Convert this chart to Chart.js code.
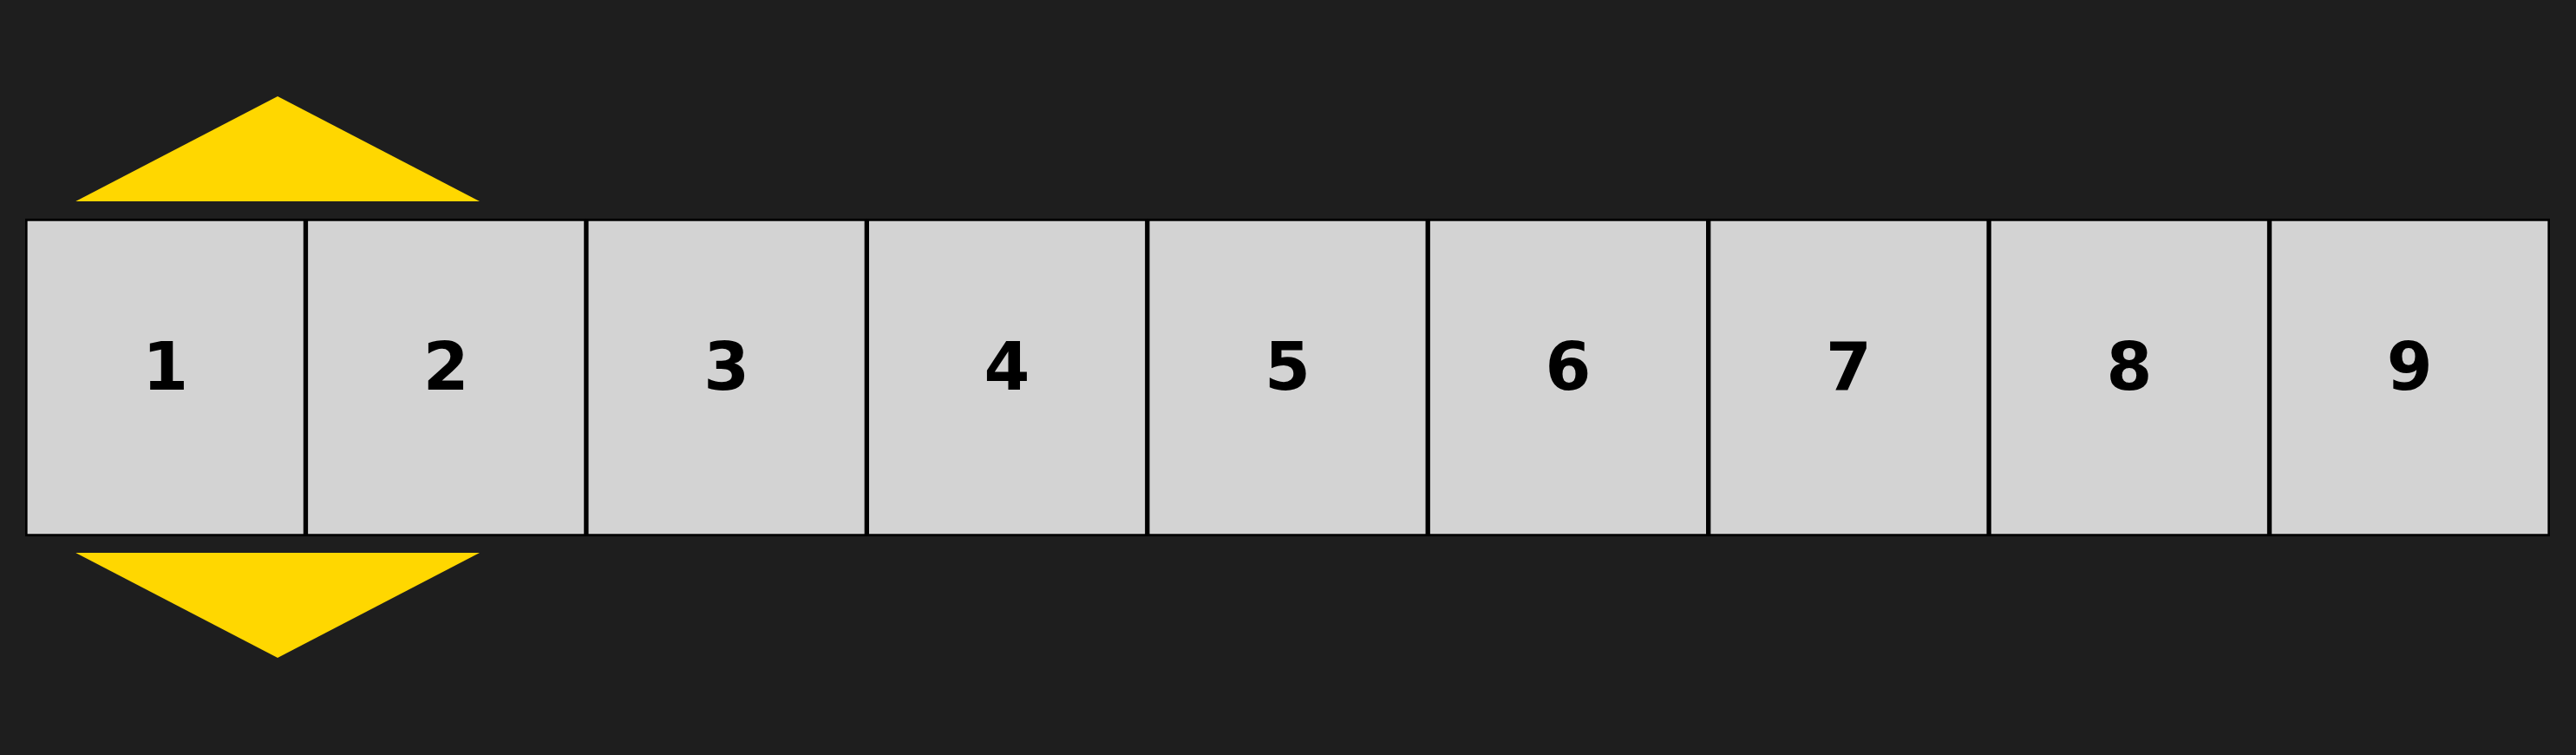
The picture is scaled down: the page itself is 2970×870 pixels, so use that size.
<!DOCTYPE html>
<html>
<head>
<meta charset="utf-8">
<style>
  html, body { margin: 0; padding: 0; background: #1e1e1e; }
  #wrap { width: 2970px; height: 870px; }
</style>
<script src="https://cdn.jsdelivr.net/npm/chart.js@4/dist/chart.umd.min.js"></script>
</head>
<body>
<div id="wrap"><canvas id="strip"></canvas></div>
<script>
// cell labels and their centres (in cell units)
const cellLabels = ['1', '2', '3', '4', '5', '6', '7', '8', '9'];
const cellCentres = [0.5, 1.5, 2.5, 3.5, 4.5, 5.5, 6.5, 7.5, 8.5];
const cellSpan = [252, 618];          // top / bottom of the strip (y runs downward)
// pointer triangles: x positions (cell units) and y values
const pointerX = [0.18, 0.9, 1.62];
const upperPointerY = [232, 111, 232];
const lowerPointerY = [637, 758, 637];

const labelPlugin = {
  id: 'cellText',
  afterDatasetsDraw(chart) {
    const { ctx, scales } = chart;
    ctx.save();
    ctx.fillStyle = '#000';
    ctx.font = 'bold 76px "DejaVu Sans"';
    ctx.textAlign = 'center';
    ctx.textBaseline = 'middle';
    const yMid = scales.y.getPixelForValue((cellSpan[0] + cellSpan[1]) / 2);
    cellLabels.forEach((t, i) => {
      ctx.fillText(t, scales.x.getPixelForValue(cellCentres[i]), yMid - 6);
    });
    ctx.restore();
  }
};

const triangle = (ys, base) => ({
  type: 'line',
  data: pointerX.map((x, i) => ({ x, y: ys[i] })),
  borderWidth: 0,
  pointRadius: 0,
  backgroundColor: '#ffd700',
  fill: { value: base },
  tension: 0
});

new Chart(document.getElementById('strip'), {
  data: {
    datasets: [
      {
        type: 'bar',
        data: cellCentres.map(x => ({ x, y: cellSpan })),
        backgroundColor: '#d3d3d3',
        borderColor: '#000',
        borderWidth: 3,
        borderSkipped: false,
        barPercentage: 1,
        categoryPercentage: 1
      },
      triangle(upperPointerY, upperPointerY[0]),
      triangle(lowerPointerY, lowerPointerY[0])
    ]
  },
  options: {
    responsive: true,
    maintainAspectRatio: false,
    animation: false,
    layout: { padding: { left: 29, right: 30, top: 0, bottom: 0 } },
    plugins: { legend: { display: false }, tooltip: { enabled: false } },
    scales: {
      x: { type: 'linear', min: 0, max: 9, offset: false, display: false },
      y: { min: 0, max: 870, reverse: true, display: false }
    }
  },
  plugins: [labelPlugin]
});
</script>
</body>
</html>
